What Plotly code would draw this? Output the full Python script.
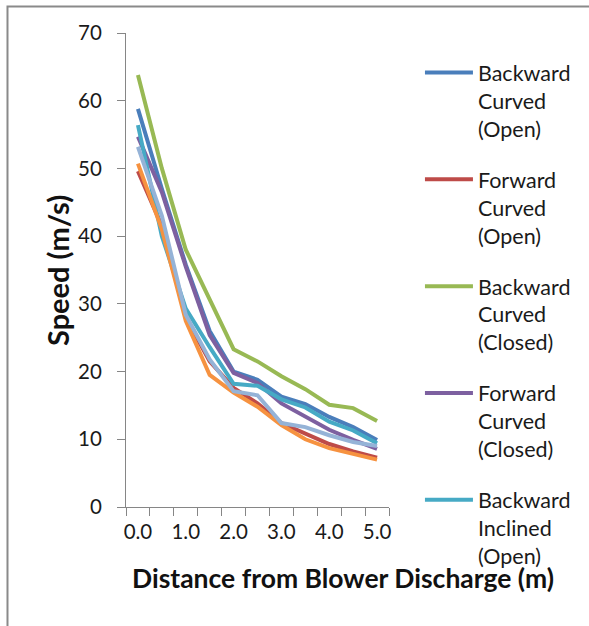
import plotly.graph_objects as go

distance = [0.0, 0.5, 1.0, 1.5, 2.0, 2.5, 3.0, 3.5, 4.0, 4.5, 5.0]
tick_vals = [0, 1, 2, 3, 4, 5]
tick_text = ["0.0", "1.0", "2.0", "3.0", "4.0", "5.0"]

backward_curved_open = [58.8, 47.0, 35.8, 26.0, 20.0, 18.8, 16.3, 15.2, 13.3, 11.8, 9.9]
forward_curved_open = [49.6, 41.5, 28.0, 21.5, 17.6, 15.3, 12.4, 10.8, 9.3, 8.2, 7.3]
backward_curved_closed = [63.8, 50.0, 38.0, 30.5, 23.3, 21.5, 19.3, 17.4, 15.1, 14.6, 12.7]
forward_curved_closed = [54.7, 46.5, 35.5, 25.4, 19.8, 18.3, 15.3, 13.4, 11.4, 9.9, 8.6]
backward_inclined_open = [56.4, 40.0, 29.3, 23.6, 18.2, 17.9, 15.9, 14.7, 12.6, 11.3, 9.4]
series_6 = [50.7, 41.0, 27.5, 19.5, 16.9, 14.8, 12.1, 10.0, 8.7, 7.8, 7.0]
series_7 = [53.2, 43.0, 28.4, 21.8, 17.1, 16.5, 12.4, 11.8, 10.6, 9.6, 9.0]

series = [
    ("Backward<br>Curved<br>(Open)", backward_curved_open, "#4A7EBB", True),
    ("Forward<br>Curved<br>(Open)", forward_curved_open, "#BE4B48", True),
    ("Backward<br>Curved<br>(Closed)", backward_curved_closed, "#98B954", True),
    ("Forward<br>Curved<br>(Closed)", forward_curved_closed, "#7D60A0", True),
    ("Backward<br>Inclined<br>(Open)", backward_inclined_open, "#46AAC5", True),
    ("Series 6", series_6, "#F69240", False),
    ("Series 7", series_7, "#95B3D7", False),
]

fig = go.Figure()
for i, (name, vals, color, show) in enumerate(series):
    fig.add_trace(go.Scatter(
        x=distance, y=vals, name=name, mode="lines",
        line=dict(color=color, width=4), showlegend=show,
        legendgroup=f"g{i}",
    ))

axis_color = "#868686"
font_family = "Lato, Open Sans, sans-serif"

fig.update_layout(
    width=589, height=626,
    margin=dict(l=126, r=200, t=33, b=119, autoexpand=False),
    paper_bgcolor="white", plot_bgcolor="white",
    font=dict(family=font_family, color="#1a1a1a"),
    xaxis=dict(
        range=[-0.25, 5.25], tickvals=tick_vals, ticktext=tick_text,
        ticks="", showgrid=False, zeroline=False, automargin=False,
        showline=True, linecolor=axis_color, linewidth=1,
        tickfont=dict(size=20.5, color="#1a1a1a"),
        ticklabelstandoff=6,
        minor=dict(tickvals=[-0.25 + 0.5 * k for k in range(12)],
                   ticks="outside", ticklen=8, tickcolor=axis_color, showgrid=False),
    ),
    yaxis=dict(
        range=[0, 70], dtick=10, ticks="outside", ticklen=8, tickcolor=axis_color,
        showgrid=False, zeroline=False, automargin=False,
        showline=True, linecolor=axis_color, linewidth=1,
        tickfont=dict(size=20.5, color="#1a1a1a"),
        ticklabelstandoff=11,
    ),
    legend=dict(
        xref="container", yref="container",
        x=0.713, xanchor="left", y=0.917, yanchor="top",
        valign="top", font=dict(size=21.5, color="#1a1a1a"),
        itemwidth=48, tracegroupgap=20, bgcolor="rgba(0,0,0,0)",
        maxheight=620,
    ),
    annotations=[
        dict(text="<b>Distance from Blower Discharge (m)</b>", xref="paper", yref="paper",
             x=0.825, y=-0.1498, xanchor="center", yanchor="middle", showarrow=False,
             font=dict(size=26.5, color="#111")),
        dict(text="<b>Speed (m/s)</b>", xref="paper", yref="paper",
             x=-0.2624, y=0.5, xanchor="center", yanchor="middle", showarrow=False,
             textangle=-90, font=dict(size=29, color="#111")),
    ],
    shapes=[dict(type="rect", xref="paper", yref="paper",
                 x0=-0.4506, x1=1.8, y0=-0.27, y1=1.056,
                 line=dict(color="#8a8a8a", width=2), layer="above")],
)

fig.write_html("out.html", config={"displayModeBar": False},
               post_script="document.body.style.margin='0';document.body.style.overflow='hidden';")
